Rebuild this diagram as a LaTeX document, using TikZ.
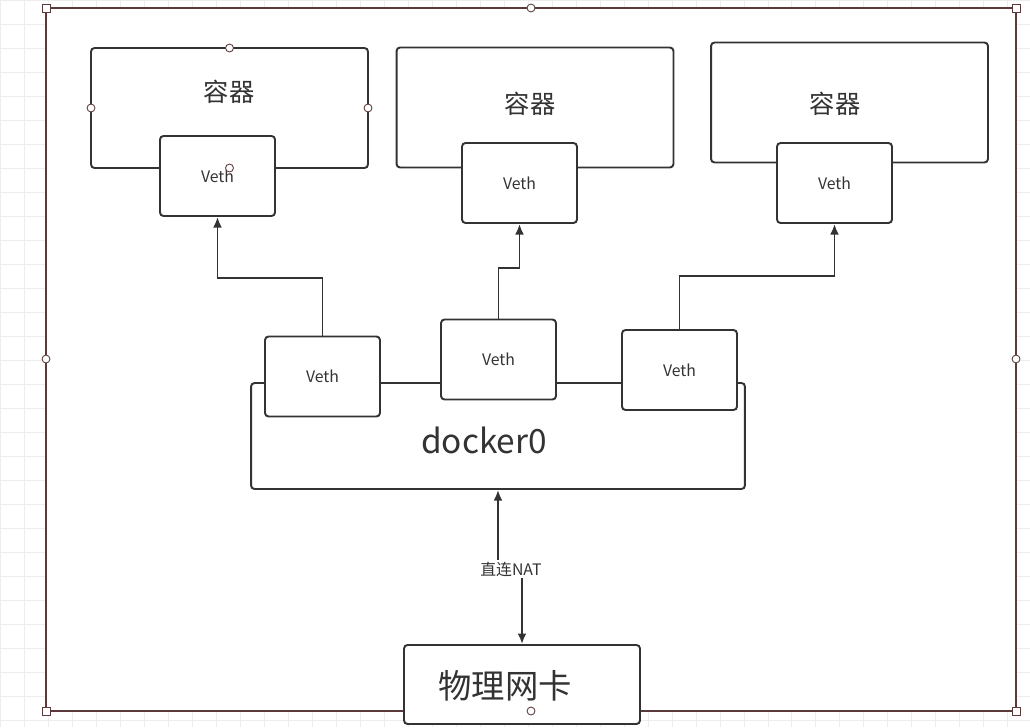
\documentclass[tikz,border=0pt]{standalone}
\usepackage{fontspec}
\setmainfont{Noto Sans CJK SC}
\usetikzlibrary{arrows.meta}
\definecolor{ln}{HTML}{333333}
\definecolor{frm}{HTML}{5A3A3A}
\begin{document}
\begin{tikzpicture}[x=0.02cm,y=-0.02cm,text=ln,
  box/.style={draw=ln,line width=1.1pt,rounded corners=2pt,fill=white},
  veth/.style={box,minimum width=2.3cm,minimum height=1.6cm,font=\small,inner sep=0pt},
  cont/.style={box,minimum width=5.54cm,minimum height=2.4cm},
  conn/.style={draw=ln,line width=1.1pt},
  arr/.style={conn,-{Latex[length=6pt,width=5pt]}},
  handle/.style={circle,draw=frm,fill=white,inner sep=0pt,minimum size=4.5pt,line width=0.5pt},
  hsq/.style={draw=frm,fill=white,inner sep=0pt,minimum size=4.5pt,line width=0.5pt}]
\useasboundingbox (0,0) rectangle (1030,727);
\fill[white] (0,0) rectangle (1030,727);
\draw[black!7,step=0.48cm] (0,0) grid (1030,727);
\fill[white] (46,8) rectangle (1016,711);
\draw[frm,line width=0.8pt] (46,8) rectangle (1016,711);
% containers
\node[cont] (c1) at (229.5,108) {};
\node[cont] (c2) at (535,107.5) {};
\node[cont] (c3) at (849.5,102.5) {};
\node (t1) at (229,92) {\Large 容器};
\node (t2) at (530,104) {\Large 容器};
\node (t3) at (835,104) {\Large 容器};
\node[veth] (v1) at (217.5,176) {Veth};
\node[veth] (v2) at (519.5,183) {Veth};
\node[veth] (v3) at (834.5,183) {Veth};
% docker0
\node[box,minimum width=9.88cm,minimum height=2.12cm] (d0) at (498,436) {};
\node (dt) at (484,440) {\fontsize{19}{22}\selectfont docker0};
\node[veth] (va) at (322.5,376.5) {Veth};
\node[veth] (vb) at (498.5,359.5) {Veth};
\node[veth] (vc) at (679.5,370) {Veth};
\draw[conn] (va.east |- 0,383) -- (vb.west |- 0,383);
\draw[conn] (vb.east |- 0,383) -- (vc.west |- 0,383);
\draw[arr] (va.north) -- ++(0,-58) -| (v1.south);
\draw[arr] (vb.north) -- ++(0,-51) -| (v2.south);
\draw[arr] (vc.north) -- ++(0,-53) -| (v3.south);
% NAT
\node[box,minimum width=4.72cm,minimum height=1.58cm] (nic) at (522,684.5) {};
\node (nt) at (505,686) {\fontsize{19}{22}\selectfont 物理网卡};
\node[font=\small,inner sep=1pt] (nat) at (511,569) {直连NAT};
\draw[arr] (nat.north -| d0.south) -- (d0.south);
\draw[arr] (nat.south -| nic.north) -- (nic.north);
% selection handles
\node[handle] at (229.5,48) {};
\node[handle] at (91,108) {};
\node[handle] at (368,108) {};
\node[handle] at (229.5,168) {};
\node[handle] at (531,8) {};
\node[handle] at (46,359) {};
\node[handle] at (1016,359) {};
\node[handle] at (531,711) {};
\node[hsq] at (46,8) {};
\node[hsq] at (1016,8) {};
\node[hsq] at (46,711) {};
\node[hsq] at (1016,711) {};
\end{tikzpicture}
\end{document}
